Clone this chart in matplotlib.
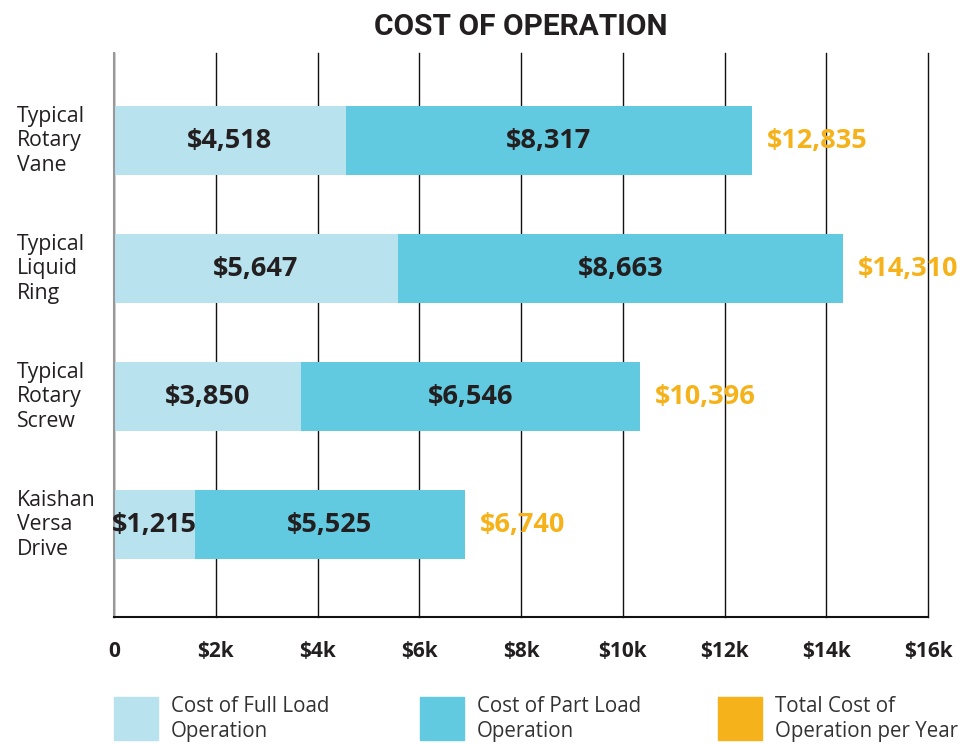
import matplotlib.pyplot as plt
from matplotlib.patches import Rectangle
from matplotlib.transforms import blended_transform_factory

categories = ["Typical\nRotary\nVane", "Typical\nLiquid\nRing", "Typical\nRotary\nScrew", "Kaishan\nVersa\nDrive"]
full_load_labels = ["$4,518", "$5,647", "$3,850", "$1,215"]
part_load_labels = ["$8,317", "$8,663", "$6,546", "$5,525"]
total_labels = ["$12,835", "$14,310", "$10,396", "$6,740"]
# bar lengths in $k
full_load_bar = [4.56, 5.58, 3.68, 1.59]
part_load_bar = [7.98, 8.75, 6.66, 5.31]
xticks = [0, 2, 4, 6, 8, 10, 12, 14, 16]
xtick_labels = ["0", "$2k", "$4k", "$6k", "$8k", "$10k", "$12k", "$14k", "$16k"]
series_names = ["Cost of Full Load\nOperation", "Cost of Part Load\nOperation", "Total Cost of\nOperation per Year"]

LIGHT = "#b9e2ef"
MID = "#62cae0"
GOLD = "#f5b21b"
INK = "#231f20"
FONT = ["Open Sans", "DejaVu Sans"]

plt.rcParams["font.family"] = FONT

fig = plt.figure(figsize=(9.64, 7.44), dpi=100)
ax = fig.add_axes([114 / 964, 1 - 617 / 744, (928 - 114) / 964, (617 - 53) / 744])

ypos = list(range(len(categories)))
h = 0.54
ax.barh(ypos, full_load_bar, height=h, color=LIGHT, zorder=2)
ax.barh(ypos, part_load_bar, left=full_load_bar, height=h, color=MID, zorder=2)

for y, f, p, fl, pl, tl in zip(ypos, full_load_bar, part_load_bar,
                               full_load_labels, part_load_labels, total_labels):
    ax.text(f / 2, y, fl, ha="center", va="center", fontsize=19.5,
            fontweight="bold", color=INK, zorder=3)
    ax.text(f + p / 2, y, pl, ha="center", va="center", fontsize=19.5,
            fontweight="bold", color=INK, zorder=3)
    ax.text(f + p + 0.3, y, tl, ha="left", va="center", fontsize=19.5,
            fontweight="bold", color=GOLD, zorder=3)

ax.set_xlim(0, 16)
ax.set_ylim(3.72, -0.684)
ax.set_xticks(xticks)
ax.set_xticklabels(xtick_labels, fontsize=15, fontweight="bold", color=INK)
ax.set_yticks([])
ax.tick_params(axis="x", length=0, pad=17)
ax.xaxis.grid(True, color="#111111", lw=1)
for gl in ax.get_xgridlines():
    gl.set_clip_on(False)
ax.set_axisbelow(True)
for s in ["top", "right"]:
    ax.spines[s].set_visible(False)
ax.spines["left"].set_color("#999999")
ax.spines["left"].set_linewidth(1.5)
ax.spines["bottom"].set_color("#111111")
ax.spines["bottom"].set_linewidth(1.5)

trans = blended_transform_factory(fig.transFigure, ax.transData)
for y, c in zip(ypos, categories):
    ax.text(17 / 964, y, c, transform=trans, ha="left", va="center",
            fontsize=15.3, color=INK, linespacing=1.22)

fig.text(521 / 964, 1 - 27 / 744, "COST OF OPERATION", ha="center", va="center",
         fontsize=21.5, fontweight="bold", family=["Roboto", "DejaVu Sans"], color=INK)

# legend drawn by hand
leg_colors = [LIGHT, MID, GOLD]
leg_x = [114, 420, 718]
for x0, col, name in zip(leg_x, leg_colors, series_names):
    fig.patches.append(Rectangle((x0 / 964, 1 - 740 / 744), 44 / 964, 43 / 744,
                                 transform=fig.transFigure, color=col))
    fig.text((x0 + 57) / 964, 1 - 719 / 744, name, ha="left", va="center",
             fontsize=14.8, color="#333333", linespacing=1.27)

fig.savefig("out.png", dpi=100)
